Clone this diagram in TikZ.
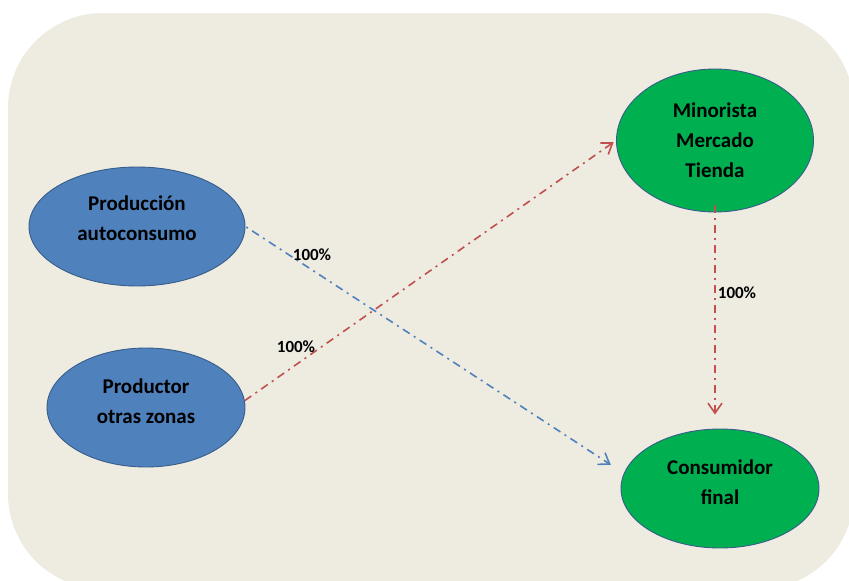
\documentclass[tikz,border=0pt]{standalone}
\usepackage{fontspec}
\setmainfont{Carlito}
\usetikzlibrary{arrows.meta,shapes.geometric,calc}
\definecolor{panelbg}{HTML}{EEECE1}
\definecolor{blueshape}{HTML}{4F81BD}
\definecolor{greenshape}{HTML}{00B050}
\definecolor{shapeline}{HTML}{385D8A}
\definecolor{redflow}{HTML}{C0504D}
\definecolor{blueflow}{HTML}{4F81BD}
\begin{document}
\begin{tikzpicture}[x=1pt,y=-1pt,
  oval/.style={ellipse, draw=shapeline, line width=0.9pt, inner sep=0pt},
  caption/.style={font=\bfseries\fontsize{21}{30}\selectfont, align=center, text=black, inner sep=0pt},
  pct/.style={font=\bfseries\fontsize{17}{20}\selectfont, inner sep=0pt},
  flow/.style={line width=1.6pt, dash pattern=on 8pt off 5pt on 2pt off 5pt,
               -{Straight Barb[length=10pt,width=14pt]}},
]
\useasboundingbox (0,0) rectangle (849,581);
% rounded panel behind the diagram
\fill[panelbg, rounded corners=95pt] (8,13) rectangle (854,589);

% producers (blue) and destinations (green)
\node[oval, fill=blueshape, minimum width=216pt, minimum height=119pt] (prod) at (137,226.5) {};
\node[oval, fill=blueshape, minimum width=198pt, minimum height=119pt] (otras) at (146,407.5) {};
\node[oval, fill=greenshape, minimum width=197pt, minimum height=143pt] (mino) at (715,140.5) {};
\node[oval, fill=greenshape, minimum width=198pt, minimum height=119pt] (cons) at (720,488.5) {};

\node[caption] (prodtxt) at ($(prod.center)+(0,-8.5)$) {Producción\\autoconsumo};
\node[caption] (otrastxt) at ($(otras.center)+(0,-6.5)$) {Productor\\otras zonas};
\node[caption] (minotxt) at ($(mino.center)+(0,-0.5)$) {Minorista\\Mercado\\Tienda};
\node[caption] (constxt) at ($(cons.center)+(0,-6.5)$) {Consumidor\\final};

% flows
\draw[flow, draw=blueflow, shorten <=-12pt, shorten >=15.6pt] (prod.east) -- (cons.171);
\draw[flow, draw=redflow, shorten >=3pt] (otras.4) -- (mino.west);
\draw[flow, draw=redflow, shorten <=-7pt, shorten >=14pt] (mino.south) -- (mino.south |- cons.north);

% shares
\node[pct] (pa) at (312,255) {100\%};
\node[pct] (pb) at (296,347) {100\%};
\node[pct] (pc) at (737,293) {100\%};
\end{tikzpicture}
\end{document}
